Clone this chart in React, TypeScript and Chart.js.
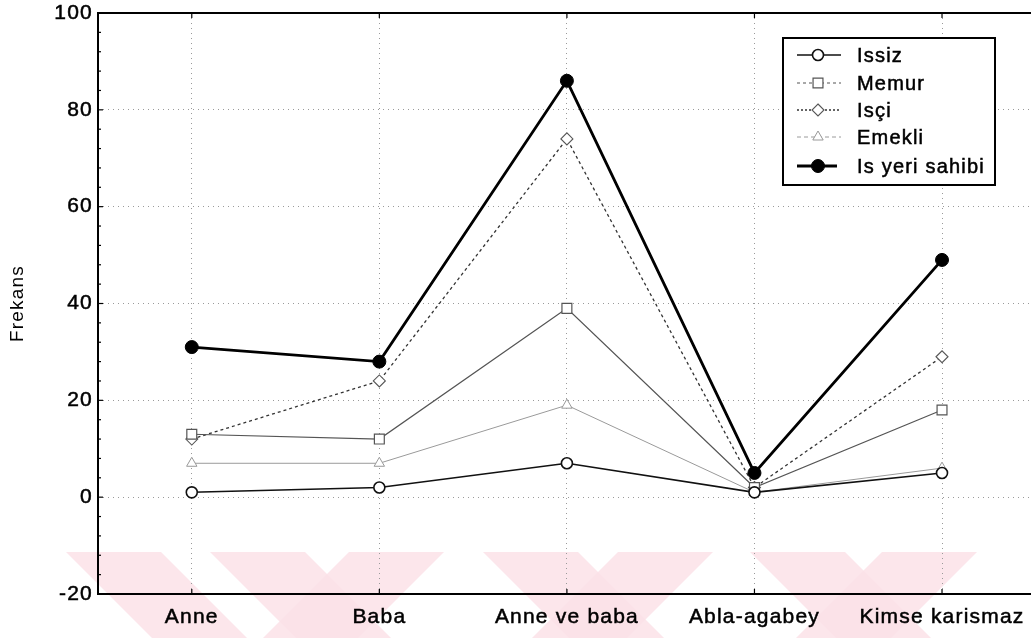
import React, { useEffect, useRef } from "react";
import { Chart, registerables } from "chart.js";

Chart.register(...registerables);

const categories = ["Anne", "Baba", "Anne ve baba", "Abla-agabey", "Kimse karismaz"];
const seriesNames = ["Issiz", "Memur", "Isçi", "Emekli", "Is yeri sahibi"];
const issiz = [1, 2, 7, 1, 5];
const memur = [13, 12, 39, 2, 18];
const isci = [12, 24, 74, 2, 29];
const emekli = [7, 7, 19, 1, 6];
const isYeriSahibi = [31, 28, 86, 5, 49];
const yMin = -20;
const yMax = 100;
const yStep = 20;
const yTitle = "Frekans";

const FONT = '"Liberation Sans", Arial, sans-serif';
const SPACING = "1.2px";

type Style = {
  line: string; width: number; dash: number[];
  point: string; radius: number; fill: string; stroke: string; pw: number;
  legendDash: number[]; order: number;
};

const styles: Style[] = [
  { line: "#111", width: 1.6, dash: [], point: "circle", radius: 5.5, fill: "#fff", stroke: "#111", pw: 1.6, legendDash: [], order: 2 },
  { line: "#555", width: 1.2, dash: [], point: "rect", radius: 7, fill: "#fff", stroke: "#555", pw: 1.2, legendDash: [3, 3], order: 3 },
  { line: "#333", width: 1.3, dash: [3, 3], point: "rectRot", radius: 6, fill: "#fff", stroke: "#555", pw: 1.1, legendDash: [2, 2], order: 4 },
  { line: "#9a9a9a", width: 1, dash: [], point: "triangle", radius: 6, fill: "#fff", stroke: "#999", pw: 1, legendDash: [4, 3], order: 5 },
  { line: "#000", width: 2.8, dash: [], point: "circle", radius: 6.5, fill: "#000", stroke: "#000", pw: 1, legendDash: [16, 8], order: 1 },
];

const seriesValues = [issiz, memur, isci, emekli, isYeriSahibi];

function drawMarker(ctx: CanvasRenderingContext2D, s: Style, x: number, y: number) {
  ctx.save();
  ctx.setLineDash([]);
  ctx.lineWidth = s.pw;
  ctx.strokeStyle = s.stroke;
  ctx.fillStyle = s.fill;
  ctx.beginPath();
  const r = s.radius;
  if (s.point === "circle") {
    ctx.arc(x, y, r, 0, Math.PI * 2);
  } else if (s.point === "rect") {
    const h = r * Math.SQRT1_2;
    ctx.rect(x - h, y - h, 2 * h, 2 * h);
  } else if (s.point === "rectRot") {
    ctx.moveTo(x, y - r);
    ctx.lineTo(x + r, y);
    ctx.lineTo(x, y + r);
    ctx.lineTo(x - r, y);
    ctx.closePath();
  } else if (s.point === "triangle") {
    ctx.moveTo(x, y - r);
    ctx.lineTo(x + r * 0.866, y + r * 0.5);
    ctx.lineTo(x - r * 0.866, y + r * 0.5);
    ctx.closePath();
  }
  ctx.fill();
  ctx.stroke();
  ctx.restore();
}

const spacingPlugin = {
  id: "spacing",
  beforeLayout(c: any) { (c.ctx as any).letterSpacing = SPACING; },
  beforeDraw(c: any) { (c.ctx as any).letterSpacing = SPACING; },
};

const watermarkPlugin = {
  id: "watermark",
  beforeDraw(c: any) {
    const ctx: CanvasRenderingContext2D = c.ctx;
    const top = 552;
    const bottom = 638;
    const h = bottom - top;
    const stripes: [number, number][] = [
      [66, 1], [210, 1], [349, -1], [483, 1], [618, -1], [750, 1], [882, -1],
    ];
    const w = 95;
    ctx.save();
    ctx.fillStyle = "rgba(252, 226, 232, 0.85)";
    for (const [x, dir] of stripes) {
      ctx.beginPath();
      ctx.moveTo(x, top);
      ctx.lineTo(x + w, top);
      ctx.lineTo(x + w + dir * h, bottom);
      ctx.lineTo(x + dir * h, bottom);
      ctx.closePath();
      ctx.fill();
    }
    ctx.restore();
  },
};

const framePlugin = {
  id: "frame",
  beforeDatasetsDraw(c: any) {
    const ctx: CanvasRenderingContext2D = c.ctx;
    const a = c.chartArea;
    const y = c.scales.y;
    const x = c.scales.x;
    ctx.save();
    ctx.setLineDash([]);
    ctx.strokeStyle = "#000";
    ctx.lineWidth = 2;
    ctx.strokeRect(a.left, a.top, a.right - a.left, a.bottom - a.top);
    ctx.lineWidth = 1.2;
    for (let v = yMin; v <= yMax; v += yStep / 5) {
      const py = y.getPixelForValue(v);
      ctx.beginPath();
      ctx.moveTo(a.left, py);
      ctx.lineTo(a.left + (v % yStep === 0 ? 5 : 3), py);
      ctx.stroke();
    }
    for (let i = 0; i < categories.length; i++) {
      const px = x.getPixelForValue(i);
      ctx.beginPath();
      ctx.moveTo(px, a.bottom);
      ctx.lineTo(px, a.bottom - 5);
      ctx.stroke();
      ctx.beginPath();
      ctx.moveTo(px, a.top);
      ctx.lineTo(px, a.top + 5);
      ctx.stroke();
    }
    ctx.restore();
  },
};

const legendPlugin = {
  id: "customLegend",
  afterDraw(c: any) {
    const ctx: CanvasRenderingContext2D = c.ctx;
    const bx = 783, by = 38, bw = 212, bh = 147;
    ctx.save();
    ctx.fillStyle = "#fff";
    ctx.fillRect(bx, by, bw, bh);
    ctx.setLineDash([]);
    ctx.strokeStyle = "#000";
    ctx.lineWidth = 2;
    ctx.strokeRect(bx, by, bw, bh);
    const rows = [55, 83, 110, 137, 166];
    (ctx as any).letterSpacing = SPACING;
    for (let i = 0; i < seriesNames.length; i++) {
      const s = styles[i];
      const yy = rows[i];
      ctx.save();
      ctx.strokeStyle = s.line;
      ctx.lineWidth = s.width;
      ctx.setLineDash(s.legendDash);
      ctx.beginPath();
      ctx.moveTo(797, yy);
      ctx.lineTo(841, yy);
      ctx.stroke();
      ctx.restore();
      drawMarker(ctx, s, 818, yy);
      ctx.fillStyle = "#000";
      ctx.strokeStyle = "#000";
      ctx.lineWidth = 0.5;
      ctx.font = `20px ${FONT}`;
      ctx.textBaseline = "middle";
      ctx.textAlign = "left";
      ctx.strokeText(seriesNames[i], 857, yy + 1);
      ctx.fillText(seriesNames[i], 857, yy + 1);
    }
    ctx.restore();
  },
};

export default function App() {
  const ref = useRef<HTMLCanvasElement | null>(null);
  useEffect(() => {
    if (!ref.current) return;
    const chart = new Chart(ref.current, {
      type: "line",
      data: {
        labels: categories,
        datasets: seriesValues.map((vals, i) => {
          const s = styles[i];
          return {
            label: seriesNames[i],
            data: vals,
            borderColor: s.line,
            borderWidth: s.width,
            borderDash: s.dash,
            pointStyle: s.point as any,
            pointRadius: s.radius,
            pointBackgroundColor: s.fill,
            pointBorderColor: s.stroke,
            pointBorderWidth: s.pw,
            tension: 0,
            fill: false,
            order: s.order,
          };
        }),
      },
      options: {
        responsive: false,
        animation: false,
        layout: { padding: { top: 13, right: 0, left: 0, bottom: 0 } },
        plugins: { legend: { display: false }, tooltip: { enabled: false } },
        scales: {
          x: {
            type: "category",
            offset: true,
            grid: { color: "#9a9a9a", lineWidth: 1, drawTicks: false },
            border: { display: false, dash: [1, 4] },
            ticks: {
              color: "#000",
              font: { family: FONT, size: 21 },
              textStrokeColor: "#000",
              textStrokeWidth: 0.5,
              padding: 11,
              maxRotation: 0,
              autoSkip: false,
            },
            afterFit(s: any) { s.height = 44; s.paddingLeft = 0; s.paddingRight = 0; },
          },
          y: {
            min: yMin,
            max: yMax,
            ticks: {
              stepSize: yStep,
              color: "#000",
              font: { family: FONT, size: 21 },
              textStrokeColor: "#000",
              textStrokeWidth: 0.5,
              padding: 5,
            },
            grid: {
              drawTicks: false,
              lineWidth: 1,
              color: (ctx: any) =>
                ctx.tick && (ctx.tick.value === yMin || ctx.tick.value === yMax) ? "rgba(0,0,0,0)" : "#9a9a9a",
            },
            border: { display: false, dash: [1, 4] },
            title: {
              display: true,
              text: yTitle,
              color: "#000",
              font: { family: FONT, size: 19 },
              padding: { top: 6, bottom: 0 },
            },
            afterFit(s: any) { s.width = 98; s.paddingTop = 0; s.paddingBottom = 0; },
          },
        },
      },
      plugins: [spacingPlugin, watermarkPlugin, framePlugin, legendPlugin],
    } as any);
    return () => chart.destroy();
  }, []);
  return (
    <div style={{ position: "absolute", left: 0, top: 0, width: 1031, height: 638, overflow: "hidden", background: "#fff" }}>
      <canvas ref={ref} width={1044} height={638} style={{ display: "block" }} />
    </div>
  );
}
